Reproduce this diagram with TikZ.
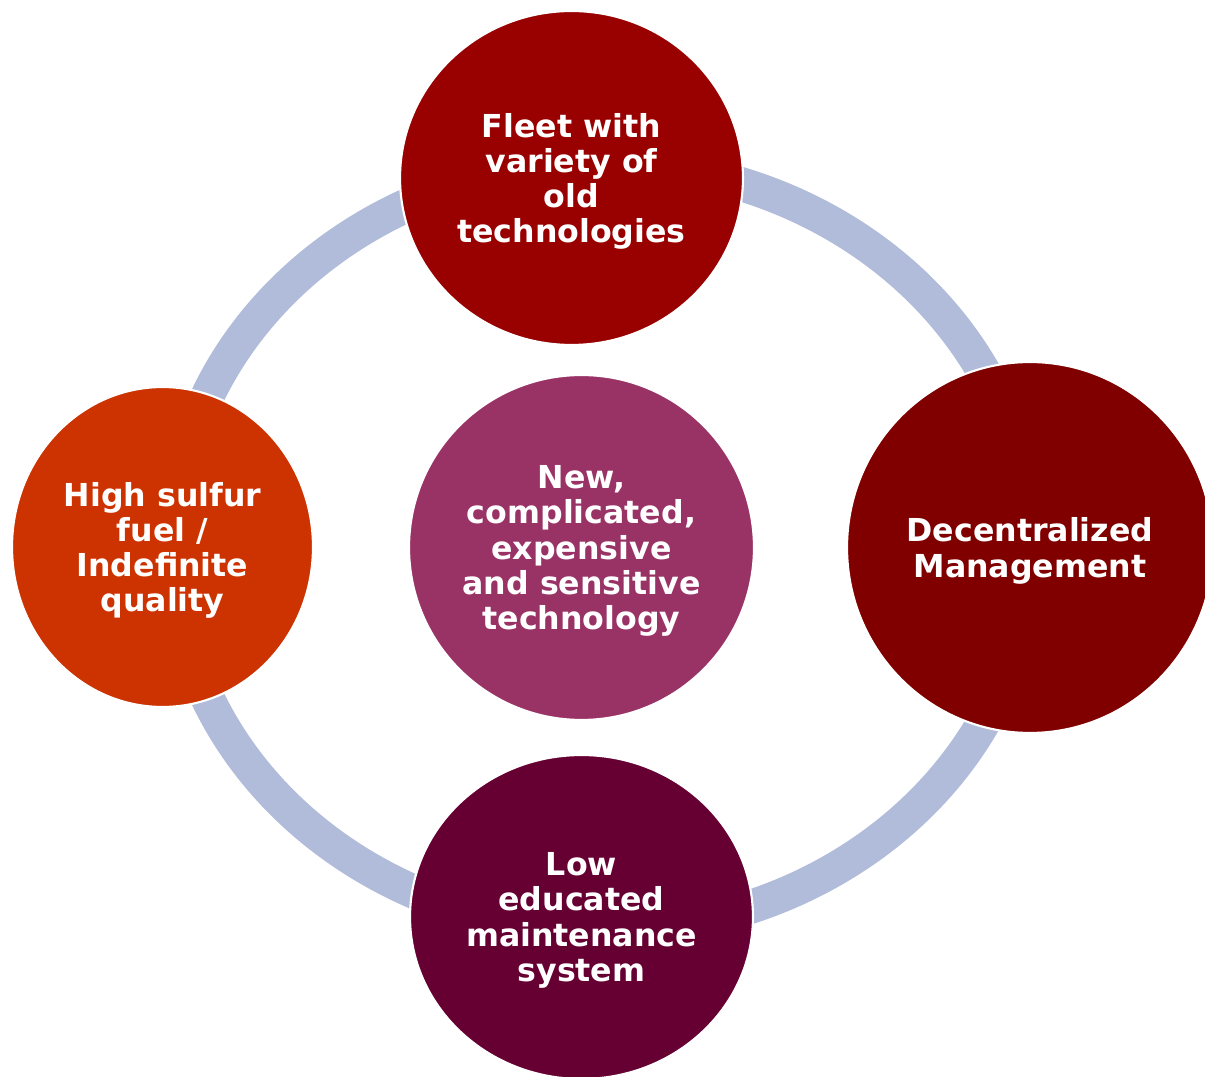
\documentclass[tikz,border=0pt]{standalone}
\usepackage{fontspec}
\setmainfont{DejaVu Sans}
\usetikzlibrary{shapes.geometric}
\definecolor{fleetred}{RGB}{153,0,0}
\definecolor{mgmtred}{RGB}{128,0,0}
\definecolor{maintpurple}{RGB}{102,0,51}
\definecolor{fuelorange}{RGB}{204,51,0}
\definecolor{techpink}{RGB}{153,51,102}
\definecolor{ringblue}{RGB}{176,188,218}

\begin{document}
\begin{tikzpicture}[x=0.02cm, y=-0.02cm]
          \tikzstyle{every node}=[font=\fontsize{18}{20}\selectfont\bfseries, text=white, align=center, text depth=0pt]
          \tikzstyle{blob}=[ellipse, draw=white, line width=1.2pt, inner sep=0pt]
          \useasboundingbox (0,0) rectangle (1205,1077);
          % ring behind the circles
            \coordinate (mid) at (602,547);
            \draw[ringblue, line width=0.68cm] (mid) ellipse (429 and 383.5);

            \node[blob, fill=fleetred, minimum width=6.86cm, minimum height=6.68cm] (fleet) at (571.5,178) {Fleet with\\variety of\\old\\technologies};
            \node[blob, fill=mgmtred, minimum width=7.32cm, minimum height=7.42cm] (mgmt) at (1030,547.5) {Decentralized\\Management};
            \node[blob, fill=maintpurple, minimum width=6.86cm, minimum height=6.48cm] (maint) at (581.5,917) {Low\\educated\\maintenance\\system};
            \node[blob, fill=fuelorange, minimum width=6.02cm, minimum height=6.4cm] (fuel) at (162.5,547) {High sulfur\\fuel /\\Indefinite\\quality};
            \node[blob, fill=techpink, minimum width=6.9cm, minimum height=6.9cm] (tech) at (581.5,547.5) {New,\\complicated,\\expensive\\and sensitive\\technology};
        \end{tikzpicture}
\end{document}
